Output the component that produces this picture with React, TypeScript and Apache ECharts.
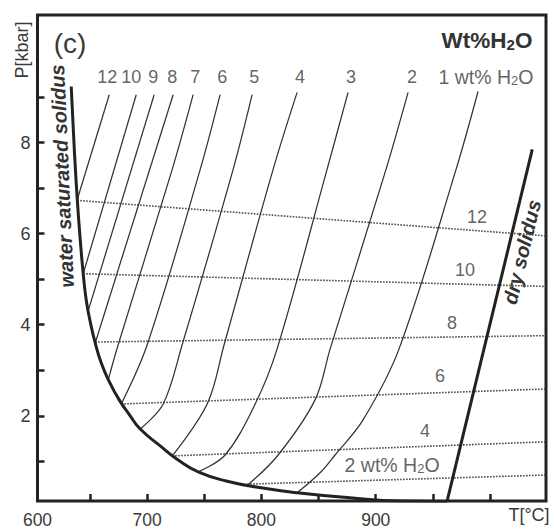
import React, { useEffect, useRef } from "react";
import * as echarts from "echarts";

// Axis ranges (T in °C, P in kbar)
const T_MIN = 604;
const T_MAX = 1049;
const P_MIN = 0.13;
const P_MAX = 10.8;

const tempTicks = [650, 700, 750, 800, 850, 900, 950, 1000];
const tempLabels = [T_MIN, 700, 800, 900];
const pressureTicks = [1, 2, 3, 4, 5, 6, 7, 8, 9];
const pressureLabels = [2, 4, 6, 8];

// Water-saturated solidus
const wetSolidusT = [633.5, 636.2, 638.8, 641.4, 644.0, 646.6, 650.1, 654.5, 659.8, 666.8, 675.5, 685.1, 693.9, 711.4, 727.1, 744.6, 769.1, 799.7, 831.2, 877.5, 921.3, 962.4];
const wetSolidusP = [9.23, 7.85, 6.75, 5.87, 5.12, 4.55, 4.07, 3.6, 3.16, 2.75, 2.35, 2.0, 1.71, 1.34, 1.03, 0.77, 0.57, 0.42, 0.31, 0.2, 0.13, 0.12];

// Dry solidus
const drySolidusT = [962.4, 1037];
const drySolidusP = [0.12, 7.85];

// Isopleths of melt water content (wt% H2O), [T, P]
const iso12 = [[638.8, 6.75], [666.8, 9.05]];
const iso10 = [[644.0, 5.12], [690.4, 9.05]];
const iso9 = [[648.4, 4.31], [706.1, 9.05]];
const iso8 = [[654.5, 3.6], [722.7, 9.05]];
const iso7 = [[665.9, 2.79], [674.6, 3.56], [721.9, 7.41], [740.2, 9.05]];
const iso6 = [[677.3, 2.26], [700.0, 3.56], [746.4, 7.41], [763.8, 9.05]];
const iso5 = [[693.9, 1.71], [714.0, 2.26], [730.6, 3.56], [775.2, 7.41], [791.8, 9.05]];
const iso4 = [[721.9, 1.12], [752.5, 2.26], [767.3, 3.56], [810.2, 7.41], [831.2, 9.1]];
const iso3 = [[744.6, 0.77], [768.2, 1.14], [794.5, 2.26], [813.7, 3.47], [857.4, 7.41], [875.8, 9.1]];
const iso2 = [[787.5, 0.47], [814.6, 1.14], [846.9, 2.35], [860.1, 3.47], [909.0, 7.41], [928.3, 9.1]];
const iso1 = [[831.2, 0.31], [851.3, 0.75], [864.4, 1.14], [888.9, 1.91], [920.4, 3.47], [970.3, 7.41], [989.5, 9.12]];
const isopleths = [iso12, iso10, iso9, iso8, iso7, iso6, iso5, iso4, iso3, iso2, iso1];

const isoplethNames = ["12", "10", "9", "8", "7", "6", "5", "4", "3", "2", "{w|1 wt% H}{s|2}{w|O}"];
const isoplethLabelT = [665.0, 686.0, 705.2, 721.9, 742.0, 765.6, 793.6, 833.8, 878.4, 931.8, 996.5];
const isoplethLabelP = 9.44;

// Dotted lines of dissolved water (wt% H2O)
const melt12 = [[638.8, 6.73], [1049, 5.95]];
const melt10 = [[644.0, 5.12], [1049, 4.84]];
const melt8 = [[654.5, 3.62], [1049, 3.76]];
const melt6 = [[677.3, 2.26], [1049, 2.59]];
const melt4 = [[721.9, 1.12], [1049, 1.43]];
const melt2 = [[787.5, 0.5], [1049, 0.7]];
const meltLines = [melt12, melt10, melt8, melt6, melt4, melt2];

const meltNames = ["12", "10", "8", "6", "4", "{w|2 wt% H}{s|2}{w|O}"];
const meltLabelT = [988.6, 978.1, 966.8, 956.3, 943.1, 914.3];
const meltLabelP = [6.37, 5.21, 4.04, 2.88, 1.67, 0.91];

const FONT = "'Liberation Sans', Arial, Helvetica, sans-serif";
const INK = "#222";
const TEXT = "#3a3a3a";

const pairs = (t: number[], p: number[]) => t.map((v, i) => [v, p[i]]);

const labelRich = {
  w: { fontSize: 19.5, lineHeight: 20, fontFamily: FONT, color: TEXT },
  s: { fontSize: 13, lineHeight: 6, verticalAlign: "bottom", fontFamily: FONT, color: TEXT },
};

export default function App() {
  const ref = useRef<HTMLDivElement>(null);

  useEffect(() => {
    if (!ref.current) return;
    const chart = echarts.init(ref.current, null, { renderer: "svg" });

    const labelSeries = (names: string[], ts: number[], ps: number[], key: string) => ({
      type: "scatter",
      id: key,
      silent: true,
      symbolSize: 1,
      itemStyle: { color: "transparent" },
      z: 5,
      data: names.map((n, i) => ({ name: n, value: [ts[i], ps[i]] })),
      label: {
        show: true,
        position: "inside",
        formatter: (p: any) => p.name,
        fontFamily: FONT,
        fontSize: 18,
        lineHeight: 20,
        color: TEXT,
        rich: labelRich,
      },
    });

    const option: any = {
      animation: false,
      backgroundColor: "#fff",
      grid: {
        left: 37.5,
        right: 8,
        top: 15,
        bottom: 28,
        show: true,
        borderColor: INK,
        borderWidth: 3,
        outerBoundsMode: "none",
      },
      xAxis: {
        type: "value",
        min: T_MIN,
        max: T_MAX,
        splitLine: { show: false },
        axisLine: { show: false },
        axisTick: {
          show: true,
          inside: true,
          length: 7,
          customValues: tempTicks,
          lineStyle: { color: INK, width: 2.5 },
        },
        axisLabel: {
          customValues: tempLabels,
          formatter: (v: number) => String(Math.floor(v / 100) * 100),
          margin: 10,
          fontFamily: FONT,
          fontSize: 17.5,
          lineHeight: 17,
          color: TEXT,
        },
      },
      yAxis: {
        type: "value",
        min: P_MIN,
        max: P_MAX,
        splitLine: { show: false },
        axisLine: { show: false },
        axisTick: {
          show: true,
          inside: true,
          length: 7,
          customValues: pressureTicks,
          lineStyle: { color: INK, width: 2.5 },
        },
        axisLabel: {
          customValues: pressureLabels,
          margin: 7,
          fontFamily: FONT,
          fontSize: 18,
          color: TEXT,
        },
      },
      graphic: [
        {
          type: "text",
          x: 70,
          y: 43,
          style: { text: "(c)", font: `28px ${FONT}`, fill: TEXT, align: "center", verticalAlign: "middle" },
        },
        {
          type: "text",
          x: 487,
          y: 40,
          style: {
            text: "Wt%H{s|2}O",
            fontFamily: FONT,
            fontSize: 22.5,
            fontWeight: "bold",
            lineHeight: 24,
            fill: "#333",
            align: "center",
            verticalAlign: "middle",
            rich: { s: { fontSize: 15, lineHeight: 6, verticalAlign: "bottom", fontWeight: "bold", fontFamily: FONT, fill: "#333" } },
          },
        },
        {
          type: "text",
          x: 22,
          y: 50,
          rotation: Math.PI / 2,
          style: { text: "P[kbar]", font: `18px ${FONT}`, fill: TEXT, align: "center", verticalAlign: "middle" },
        },
        {
          type: "text",
          x: 529,
          y: 515,
          style: { text: "T[°C]", font: `18px ${FONT}`, fill: TEXT, align: "center", verticalAlign: "middle" },
        },
        {
          type: "text",
          x: 62,
          y: 176,
          rotation: (92.5 * Math.PI) / 180,
          style: {
            text: "water saturated solidus",
            font: `italic bold 20px ${FONT}`,
            fill: "#333",
            align: "center",
            verticalAlign: "middle",
          },
        },
        {
          type: "text",
          x: 522,
          y: 252,
          rotation: (76.4 * Math.PI) / 180,
          style: {
            text: "dry solidus",
            font: `italic bold 20px ${FONT}`,
            fill: "#333",
            align: "center",
            verticalAlign: "middle",
          },
        },
      ],
      series: [
        ...meltLines.map((pts, i) => ({
          type: "line",
          id: "melt" + i,
          data: pts,
          showSymbol: false,
          silent: true,
          z: 2,
          lineStyle: { color: "#4a4a4a", width: 1.6, type: [1.6, 1.4] },
        })),
        ...isopleths.map((pts, i) => ({
          type: "line",
          id: "iso" + i,
          data: pts,
          showSymbol: false,
          silent: true,
          smooth: 0.35,
          z: 3,
          lineStyle: { color: "#333", width: 1.25 },
        })),
        {
          type: "line",
          id: "wetSolidus",
          data: pairs(wetSolidusT, wetSolidusP),
          showSymbol: false,
          silent: true,
          smooth: 0.5,
          z: 4,
          lineStyle: { color: INK, width: 3 },
        },
        {
          type: "line",
          id: "drySolidus",
          data: pairs(drySolidusT, drySolidusP),
          showSymbol: false,
          silent: true,
          z: 4,
          lineStyle: { color: INK, width: 3 },
        },
        labelSeries(isoplethNames, isoplethLabelT, isoplethNames.map(() => isoplethLabelP), "isoLabels"),
        labelSeries(meltNames, meltLabelT, meltLabelP, "meltLabels"),
      ],
    };

    chart.setOption(option);
    return () => chart.dispose();
  }, []);

  return (
    <div
      ref={ref}
      style={{ position: "fixed", left: 0, top: 0, width: 554, height: 529, background: "#fff" }}
    />
  );
}
